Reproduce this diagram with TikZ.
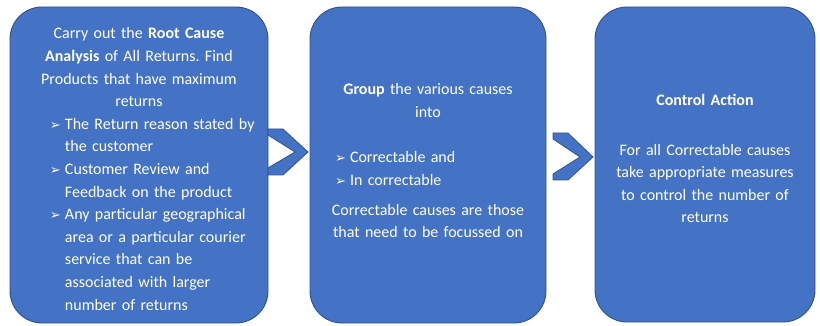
\documentclass[tikz,border=0pt]{standalone}
\usepackage{fontspec}
\setmainfont{Carlito}
\newfontfamily\dejavu{DejaVu Sans}
\usetikzlibrary{positioning}
\usetikzlibrary{calc}
\definecolor{boxblue}{HTML}{4472C4}
\definecolor{boxline}{HTML}{2F528F}
\frenchspacing
\newcommand{\arrbul}{{\dejavu\fontsize{13}{13}\selectfont ➢}}
\newcommand{\bitem}[2]{\par\noindent\hangindent=#1\hangafter=1\makebox[#1][l]{\arrbul}#2\par}
\tikzset{
	stepbox/.style = {draw=boxline, fill=boxblue, line width=0.9pt, rounded corners=32pt, inner sep=0pt},
	steptext/.style = {text=white, inner sep=0pt, font=\fontsize{16}{22.6}\selectfont},
	chevron/.style = {draw=boxline, fill=boxblue, line width=0.8pt, line join=miter}
	}
\begin{document}
\begin{tikzpicture}[x=1pt, y=-1pt]
	\useasboundingbox (0,0) rectangle (820,326);
	% the three steps
	\node[stepbox, minimum width=258pt, minimum height=316pt] (b1) at (139,165) {};
	\node[stepbox, minimum width=236pt, minimum height=316pt] (b2) at (428,165) {};
	\node[stepbox, minimum width=220pt, minimum height=315pt] (b3) at (705,164.5) {};
	
	\node[steptext, text width=250pt] (t1) at (139,169) {%
		{\centering Carry out the \textbf{Root Cause}\\ \textbf{Analysis} of All Returns. Find\\ Products that have maximum\\ returns\par}
		{\raggedright\leftskip=36pt
		\bitem{15pt}{The Return reason stated by\newline the customer}
		\bitem{15pt}{Customer Review and\newline Feedback on the product}
		\bitem{15pt}{Any particular geographical\newline area or a particular courier\newline service that can be\newline associated with larger\newline number of returns}}};
	\node[steptext, text width=220pt] (t2) at (428,161) {%
		{\centering\textbf{Group} the various causes\\ into\par}
		\vspace{22.6pt}
		{\raggedright\leftskip=17pt
		\bitem{15pt}{Correctable and}
		\bitem{15pt}{In correctable}}
		\vspace{7.4pt}
		{\centering Correctable causes are those\\ that need to be focussed on\par}};
	\node[steptext, text width=210pt] (t3) at (705,158.5) {%
		{\centering\textbf{Control Action}\\[27.4pt] For all Correctable causes\\ take appropriate measures\\ to control the number of\\ returns\par}};
	
	% chevrons between the steps
	\draw[chevron] (268,129) -- (283,129) -- (308,152) -- (283,175) -- (268,175) -- (268,168) -- (295,152) -- (268,135) -- cycle;
	\draw[chevron] (553,133) -- (568,133) -- (593,157) -- (568,180) -- (553,180) -- (553,174) -- (580,157) -- (553,139) -- cycle;
\end{tikzpicture}
\end{document}
